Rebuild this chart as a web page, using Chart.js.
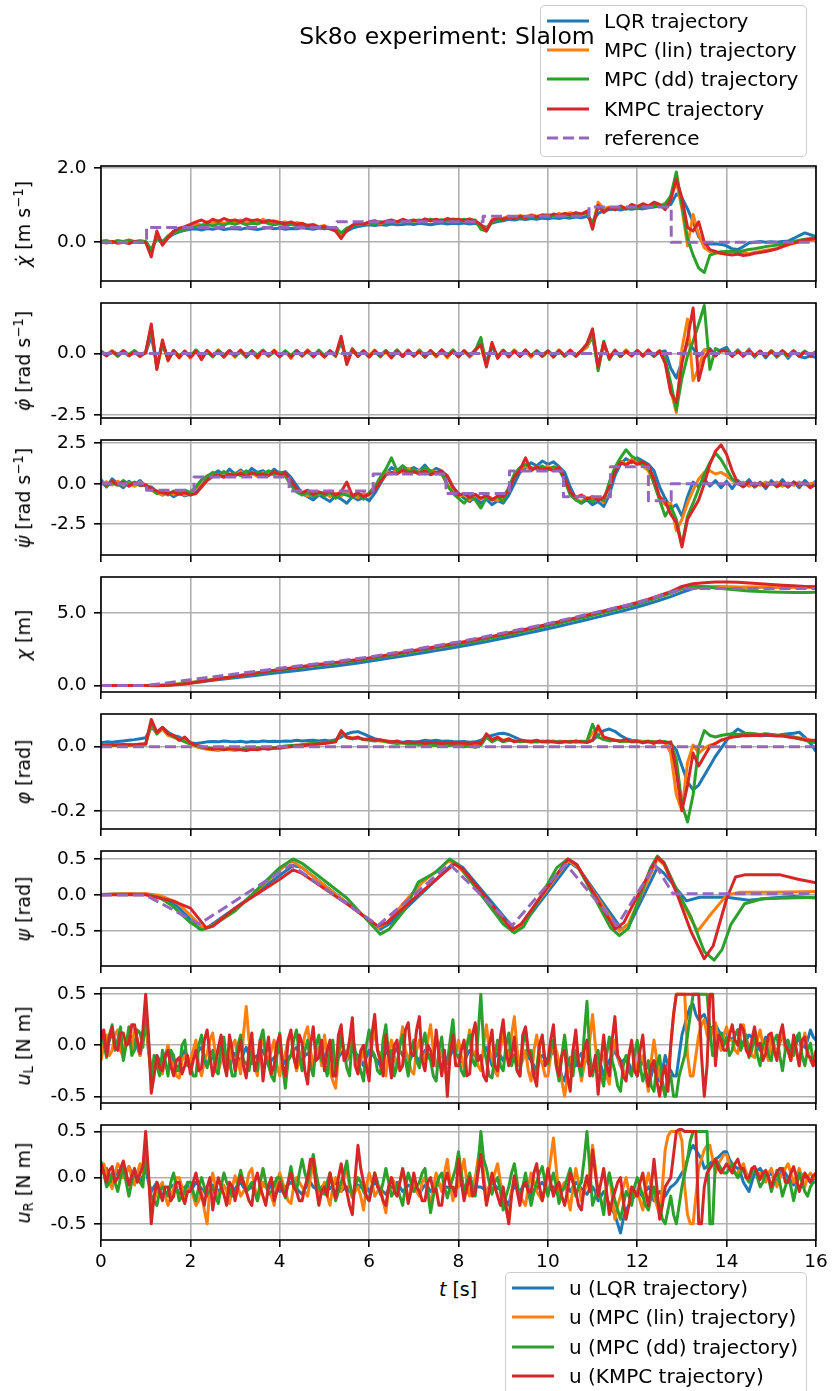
<!DOCTYPE html>
<html>
<head>
<meta charset="utf-8">
<script src="https://cdn.jsdelivr.net/npm/chart.js@4.4.1/dist/chart.umd.min.js"></script>
<style>
  body { margin: 0; width: 832px; height: 1391px; position: relative; overflow: hidden; background: #fff; font-family: "DejaVu Sans", sans-serif; color: #000; }
  canvas { position: absolute; left: 0; }
  .ylab { position: absolute; left: 23px; transform: translate(-50%, -50%) rotate(-90deg); white-space: nowrap; font-size: 19px; }
  .ylab sup { font-size: 70%; vertical-align: 0.55em; line-height: 0; }
  .ylab sub { font-size: 70%; vertical-align: -0.25em; line-height: 0; }
  .legend { position: absolute; border: 1.6px solid #cccccc; border-radius: 5px; background: rgba(255,255,255,0.8); box-sizing: border-box; }
  .row { position: absolute; height: 24px; display: flex; align-items: center; font-size: 20px; white-space: nowrap; }
  .row svg { margin-right: 15px; }
  #title { position: absolute; left: 447px; top: 36px; transform: translate(-50%, -50%); font-size: 23.5px; white-space: nowrap; z-index: 5; }
  #xlab { position: absolute; left: 458px; top: 1289px; transform: translate(-50%, -50%); font-size: 19px; white-space: nowrap; }
</style>
</head>
<body>
<div id="title">Sk8o experiment: Slalom</div>
<div id="xlab"><i>t</i> [s]</div>
<script>
// sample spacing of the logged channels
const DT = 0.125;     // s, state channels
const DT_U = 0.0625;  // s, torque channels
const DT_POS = 0.25;  // s, position channel

// ---- χ̇ forward velocity [m/s] ----
const dxLqr = [
  0.02,-0.01,0.01,0.03,0.00,-0.02,0.01,0.02,
  0.00,-0.22,0.12,-0.05,0.12,0.22,0.28,0.32,
  0.35,0.36,0.33,0.37,0.35,0.38,0.34,0.36,
  0.37,0.35,0.38,0.36,0.34,0.37,0.39,0.36,
  0.38,0.35,0.37,0.36,0.39,0.37,0.35,0.38,
  0.36,0.39,0.34,0.22,0.30,0.38,0.42,0.45,
  0.47,0.45,0.48,0.46,0.49,0.47,0.48,0.50,
  0.48,0.51,0.49,0.47,0.50,0.52,0.49,0.51,
  0.50,0.52,0.49,0.51,0.45,0.40,0.52,0.56,
  0.58,0.62,0.60,0.63,0.61,0.64,0.62,0.65,
  0.63,0.66,0.64,0.67,0.65,0.68,0.66,0.70,
  0.55,0.78,0.85,0.88,0.90,0.87,0.91,0.89,
  0.92,0.90,0.93,0.95,0.98,0.96,1.02,1.30,
  1.20,0.90,0.55,0.15,-0.05,-0.05,-0.04,-0.06,
  -0.10,-0.18,-0.20,-0.12,-0.02,0.00,0.02,0.00,
  0.01,0.00,0.02,0.03,0.10,0.18,0.25,0.20,
  0.15];
const dxLin = [
  0.03,0.05,0.00,0.04,0.02,0.06,0.01,0.03,
  0.01,-0.28,0.20,-0.02,0.18,0.28,0.35,0.40,
  0.44,0.50,0.46,0.55,0.52,0.58,0.50,0.56,
  0.54,0.60,0.52,0.57,0.55,0.62,0.53,0.58,
  0.52,0.55,0.49,0.53,0.50,0.46,0.48,0.42,
  0.45,0.38,0.40,0.20,0.35,0.45,0.50,0.48,
  0.52,0.56,0.50,0.55,0.58,0.53,0.60,0.56,
  0.58,0.55,0.61,0.57,0.60,0.56,0.62,0.58,
  0.60,0.57,0.61,0.58,0.42,0.35,0.58,0.62,
  0.65,0.70,0.66,0.72,0.68,0.74,0.70,0.72,
  0.75,0.70,0.78,0.73,0.80,0.76,0.74,0.82,
  0.45,1.08,0.90,0.95,0.88,0.96,0.92,0.98,
  0.94,1.00,0.96,1.02,0.98,1.05,1.20,1.65,
  0.90,-0.10,0.75,0.20,-0.15,-0.25,-0.28,-0.30,
  -0.32,-0.30,-0.33,-0.29,-0.31,-0.28,-0.25,-0.22,
  -0.20,-0.17,-0.12,-0.08,-0.03,0.00,0.04,0.05,
  0.06];
const dxDd = [
  0.00,0.03,-0.02,0.04,0.01,0.05,0.02,0.04,
  0.02,-0.20,0.10,0.02,0.15,0.25,0.30,0.33,
  0.38,0.42,0.45,0.48,0.44,0.50,0.46,0.52,
  0.48,0.53,0.47,0.51,0.49,0.55,0.50,0.47,
  0.50,0.46,0.48,0.44,0.46,0.42,0.45,0.40,
  0.42,0.36,0.38,0.25,0.38,0.44,0.48,0.50,
  0.53,0.50,0.55,0.52,0.57,0.54,0.58,0.55,
  0.57,0.60,0.56,0.62,0.58,0.61,0.57,0.63,
  0.59,0.62,0.58,0.60,0.35,0.30,0.55,0.60,
  0.62,0.66,0.63,0.68,0.65,0.70,0.67,0.71,
  0.69,0.73,0.70,0.76,0.72,0.78,0.75,0.80,
  0.50,0.95,0.85,0.92,0.88,0.94,0.90,0.96,
  0.93,0.98,0.95,1.00,0.97,1.03,1.25,1.90,
  1.00,0.10,-0.35,-0.70,-0.82,-0.35,-0.30,-0.26,
  -0.25,-0.24,-0.27,-0.23,-0.20,-0.18,-0.15,-0.12,
  -0.10,-0.08,-0.05,-0.02,0.02,0.05,0.08,0.10,
  0.12];
const dxKmpc = [
  0.01,-0.02,0.02,-0.03,0.00,-0.04,0.02,-0.01,
  0.00,-0.40,0.30,-0.08,0.12,0.30,0.38,0.42,
  0.48,0.55,0.60,0.52,0.62,0.56,0.64,0.58,
  0.60,0.55,0.63,0.58,0.61,0.54,0.59,0.56,
  0.53,0.50,0.55,0.48,0.51,0.45,0.47,0.40,
  0.42,0.36,0.30,0.10,0.32,0.46,0.52,0.48,
  0.55,0.58,0.52,0.57,0.60,0.55,0.62,0.57,
  0.60,0.56,0.63,0.58,0.62,0.57,0.64,0.60,
  0.62,0.58,0.63,0.57,0.48,0.30,0.60,0.65,
  0.62,0.68,0.64,0.70,0.66,0.72,0.68,0.74,
  0.70,0.76,0.72,0.78,0.74,0.80,0.76,0.84,
  0.35,1.00,0.80,0.92,0.88,0.98,0.90,1.02,
  0.96,1.04,0.98,1.08,1.02,0.88,1.15,1.70,
  1.20,0.40,0.30,0.55,0.00,-0.20,-0.25,-0.30,
  -0.33,-0.35,-0.32,-0.36,-0.34,-0.30,-0.28,-0.25,
  -0.22,-0.18,-0.12,-0.06,-0.02,0.02,0.06,0.08,
  0.10];
const dxRefT = [0, 1.02, 5.28, 8.55, 10.92, 12.76, 16];
const dxRefV = [0, 0.40, 0.55, 0.70, 0.95, 0, 0];

// ---- φ̇ pitch rate [rad/s] ----
const dphiLqr = [
  0.05,-0.08,0.10,-0.05,0.08,-0.10,0.06,-0.04,
  0.02,0.70,-0.45,0.35,-0.20,0.10,-0.12,0.08,
  -0.15,0.12,-0.10,0.08,-0.12,0.10,-0.08,0.12,
  -0.10,0.08,-0.14,0.10,-0.06,0.12,-0.10,0.06,
  -0.12,0.08,-0.10,0.12,-0.06,0.10,-0.14,0.08,
  -0.10,0.12,-0.08,0.45,-0.30,0.15,-0.10,0.08,
  -0.12,0.10,-0.08,0.12,-0.14,0.06,-0.10,0.12,
  -0.08,0.10,-0.12,0.08,-0.10,0.14,-0.06,0.10,
  -0.12,0.08,-0.10,0.12,0.40,-0.35,0.25,-0.12,
  0.10,-0.08,0.12,-0.10,0.06,-0.12,0.10,-0.08,
  0.12,-0.10,0.08,-0.06,0.10,-0.12,0.08,0.30,
  0.65,-0.50,0.35,-0.15,0.10,-0.12,0.08,-0.10,
  0.12,-0.08,0.10,-0.12,0.06,0.10,-0.60,-1.00,
  -0.30,0.45,0.20,-0.10,0.12,0.20,-0.08,0.15,
  0.25,-0.10,0.15,-0.12,0.18,-0.15,0.10,-0.18,
  0.12,-0.15,0.10,-0.20,0.08,-0.12,-0.18,-0.10,
  -0.15];
const dphiLin = [
  0.08,-0.05,0.12,-0.10,0.06,-0.08,0.10,-0.06,
  0.05,1.00,-0.55,0.45,-0.25,0.08,-0.15,0.10,
  -0.20,0.10,-0.15,0.12,-0.08,0.15,-0.12,0.08,
  -0.15,0.12,-0.08,0.10,-0.18,0.08,-0.12,0.14,
  -0.08,0.12,-0.20,0.10,-0.12,0.15,-0.08,0.10,
  -0.15,0.08,-0.10,0.60,-0.40,0.18,-0.12,0.10,
  -0.08,0.14,-0.12,0.10,-0.15,0.12,-0.10,0.08,
  -0.12,0.15,-0.08,0.12,-0.14,0.10,-0.18,0.12,
  -0.10,0.12,-0.15,0.08,0.45,-0.40,0.30,-0.15,
  0.12,-0.10,0.15,-0.08,0.12,-0.15,0.10,-0.12,
  0.08,-0.12,0.15,-0.10,0.12,-0.08,0.10,0.25,
  0.80,-0.60,0.40,-0.20,0.12,-0.10,0.15,-0.08,
  0.10,-0.12,0.08,-0.10,0.12,-0.30,-1.50,-2.40,
  0.20,1.40,-1.10,-0.60,0.15,0.10,-0.08,0.12,
  0.10,-0.08,0.12,-0.10,0.15,-0.12,0.08,-0.10,
  0.12,-0.08,0.10,-0.12,0.08,-0.10,0.06,-0.08,
  0.05];
const dphiDd = [
  0.10,-0.06,0.08,-0.12,0.10,-0.04,0.12,-0.08,
  0.06,1.05,-0.60,0.40,-0.20,0.12,-0.10,0.08,
  -0.12,0.15,-0.10,0.08,-0.14,0.12,-0.06,0.10,
  -0.12,0.10,-0.15,0.12,-0.08,0.14,-0.10,0.08,
  -0.14,0.10,-0.08,0.12,-0.10,0.08,-0.12,0.14,
  -0.08,0.10,-0.12,0.55,-0.35,0.20,-0.10,0.12,
  -0.10,0.08,-0.14,0.12,-0.10,0.15,-0.12,0.10,
  -0.10,0.12,-0.15,0.10,-0.08,0.12,-0.10,0.15,
  -0.12,0.10,-0.08,0.12,0.65,-0.45,0.30,-0.10,
  0.14,-0.10,0.12,-0.12,0.10,-0.08,0.12,-0.10,
  0.10,-0.08,0.12,-0.12,0.08,-0.10,0.12,0.35,
  0.85,-0.70,0.50,-0.25,0.10,-0.12,0.10,-0.08,
  0.12,-0.10,0.08,-0.12,0.10,-0.20,-1.20,-2.30,
  -1.00,-0.10,0.50,1.20,1.95,-0.65,0.20,0.10,
  0.15,-0.08,0.12,-0.10,0.10,-0.12,0.08,-0.10,
  0.10,-0.12,0.08,-0.10,0.12,-0.08,0.10,-0.06,
  0.08];
const dphiKmpc = [
  0.06,-0.10,0.08,-0.06,0.12,-0.08,0.05,-0.12,
  0.04,1.20,-0.65,0.55,-0.30,0.12,-0.18,0.10,
  -0.15,0.10,-0.25,0.12,-0.10,0.08,-0.15,0.12,
  -0.08,0.14,-0.12,0.08,-0.16,0.10,-0.08,0.12,
  -0.12,0.06,-0.15,0.10,-0.08,0.12,-0.10,0.06,
  -0.14,0.10,-0.08,0.70,-0.45,0.15,-0.12,0.10,
  -0.15,0.12,-0.10,0.08,-0.18,0.10,-0.12,0.14,
  -0.10,0.08,-0.14,0.12,-0.10,0.15,-0.12,0.08,
  -0.14,0.12,-0.10,0.15,0.35,-0.55,0.45,-0.20,
  0.12,-0.14,0.10,-0.12,0.15,-0.10,0.08,-0.12,
  0.10,-0.15,0.12,-0.08,0.14,-0.10,0.12,0.40,
  1.00,-0.55,0.45,-0.20,0.14,-0.12,0.10,-0.10,
  0.12,-0.10,0.15,-0.08,0.10,-0.40,-1.60,-2.00,
  -0.40,0.60,1.85,-1.10,-0.20,0.15,-0.10,0.12,
  0.10,-0.12,0.08,-0.10,0.12,-0.08,0.10,-0.12,
  0.08,-0.10,0.12,-0.08,0.10,-0.12,0.06,-0.10,
  0.05];
const dphiRefT = [0, 16];
const dphiRefV = [0, 0];

// ---- ψ̇ yaw rate [rad/s] ----
const dpsiLqr = [
  0.25,-0.20,0.30,0.00,-0.25,0.15,-0.10,0.20,
  -0.15,-0.20,-0.50,-0.70,-0.55,-0.80,-0.60,-0.75,
  -0.65,-0.55,-0.10,0.30,0.55,0.80,0.50,0.90,
  0.60,0.85,0.55,0.95,0.70,0.80,0.55,0.90,
  0.65,0.75,0.40,-0.10,-0.60,-0.80,-1.00,-0.70,
  -0.90,-1.10,-0.75,-0.95,-1.20,-0.80,-1.00,-0.85,
  -1.05,-0.60,0.00,0.60,1.00,0.75,1.10,0.85,
  1.00,0.80,1.15,0.70,0.95,0.80,0.40,-0.20,
  -0.60,-0.90,-1.10,-0.80,-1.20,-0.95,-1.30,-1.05,
  -1.20,-0.70,0.00,0.70,1.00,1.30,1.10,1.40,
  1.20,1.35,1.05,0.70,-0.20,-0.90,-1.20,-1.00,
  -1.30,-1.10,-1.40,-0.70,0.50,1.20,1.55,1.30,
  1.60,1.40,1.20,0.80,-0.20,-0.90,-1.50,-1.30,
  -2.00,-0.80,0.10,-0.20,0.30,-0.15,0.20,-0.25,
  0.15,-0.30,0.20,-0.10,0.25,-0.20,0.10,-0.30,
  0.20,-0.15,0.25,-0.20,0.10,-0.25,0.20,-0.10,
  0.15];
const dpsiLin = [
  0.00,0.12,-0.08,0.15,-0.10,0.05,-0.15,0.10,
  -0.08,-0.40,-0.55,-0.70,-0.50,-0.65,-0.45,-0.70,
  -0.60,-0.30,0.15,0.50,0.60,0.45,0.70,0.50,
  0.60,0.75,0.50,0.65,0.45,0.70,0.60,0.55,
  0.65,0.45,0.00,-0.45,-0.60,-0.75,-0.50,-0.70,
  -0.55,-0.80,-0.60,-0.75,-0.50,-0.70,-0.85,-0.60,
  -0.70,-0.30,0.30,0.80,0.60,0.90,0.70,0.95,
  0.70,0.85,0.60,0.80,0.70,0.55,0.00,-0.50,
  -0.80,-0.65,-1.00,-0.70,-0.95,-0.75,-0.90,-1.05,
  -0.75,-0.30,0.50,0.90,1.10,0.85,1.05,0.90,
  1.10,0.85,1.00,0.25,-0.60,-0.95,-1.10,-0.85,
  -1.00,-0.90,-1.15,0.00,0.90,1.40,1.20,1.50,
  1.30,1.10,0.80,0.10,-0.90,-1.30,-1.20,-2.90,
  -2.20,-1.20,-0.40,0.30,0.70,0.80,0.60,0.70,
  0.50,0.20,0.00,0.10,-0.15,0.05,-0.10,0.10,
  -0.05,0.10,-0.15,0.05,-0.10,0.10,-0.05,0.00,
  0.05];
const dpsiDd = [
  0.10,-0.15,0.05,-0.10,0.20,-0.05,0.10,-0.12,
  -0.05,-0.35,-0.60,-0.50,-0.70,-0.45,-0.60,-0.40,
  -0.55,-0.20,0.25,0.45,0.70,0.50,0.75,0.55,
  0.65,0.50,0.80,0.60,0.70,0.55,0.80,0.60,
  0.70,0.50,-0.10,-0.50,-0.70,-0.55,-0.80,-0.60,
  -0.75,-0.55,-0.90,-0.60,-0.70,-0.85,-0.60,-0.95,
  -0.55,-0.20,0.40,0.90,1.60,0.80,1.10,0.70,
  0.90,0.65,1.00,0.80,0.60,0.70,-0.10,-0.60,
  -0.90,-1.20,-0.80,-1.00,-1.50,-0.85,-1.00,-0.80,
  -1.10,-0.20,0.60,1.00,1.20,1.00,0.90,1.10,
  0.85,1.05,0.90,0.20,-0.70,-1.00,-1.20,-0.90,
  -1.10,-0.85,-1.05,0.10,1.00,1.60,2.10,1.70,
  1.50,1.20,1.00,0.00,-1.00,-2.00,-1.40,-2.20,
  -3.80,-2.00,-1.20,-0.30,0.60,1.30,1.90,1.50,
  0.90,0.30,0.00,-0.15,0.10,-0.20,0.05,-0.10,
  0.10,-0.20,0.00,-0.15,0.10,-0.10,0.05,-0.20,
  -0.05];
const dpsiKmpc = [
  0.05,-0.10,0.15,-0.05,0.10,-0.15,0.05,-0.08,
  -0.10,-0.30,-0.45,-0.55,-0.60,-0.50,-0.65,-0.55,
  -0.70,-0.60,-0.20,0.20,0.45,0.55,0.40,0.60,
  0.50,0.65,0.45,0.70,0.55,0.60,0.50,0.75,
  0.55,0.65,0.20,-0.30,-0.55,-0.40,-0.65,-0.50,
  -0.60,-0.45,-0.70,-0.50,0.10,-0.75,-0.55,-0.80,
  -0.65,-0.40,0.10,0.55,0.70,0.60,0.85,0.65,
  0.75,0.60,0.80,0.55,0.70,0.75,0.50,-0.20,
  -0.70,-0.60,-0.85,-0.65,-0.90,-0.70,-1.00,-0.75,
  -0.80,-0.40,0.40,0.85,1.60,0.80,1.05,0.85,
  0.95,0.80,1.00,0.35,-0.50,-0.85,-0.70,-0.95,
  -0.80,-1.00,-0.85,-0.20,0.70,1.30,1.15,1.40,
  1.20,1.35,1.10,0.30,-0.80,-1.10,-1.90,-2.40,
  -3.90,-2.20,-1.60,-1.00,0.00,1.20,2.00,2.40,
  1.80,0.80,0.05,-0.20,0.10,-0.15,0.05,-0.20,
  0.10,-0.15,0.05,-0.20,0.10,-0.10,0.05,-0.25,
  0.00];
const dpsiRefT = [0, 1.02, 2.08, 4.21, 6.09, 7.72, 9.14, 10.35, 11.4, 12.25, 12.76, 16];
const dpsiRefV = [0, -0.40, 0.42, -0.45, 0.60, -0.60, 0.78, -0.80, 1.05, -1.05, 0, 0];

// ---- χ position [m], every 0.25 s ----
const chiLqr = [
  0,0,0,0, 0,0.00,0.03,0.09, 0.17,0.26,0.35,0.44, 0.53,0.62,0.71,0.80,
  0.89,0.98,1.07,1.16, 1.25,1.34,1.44,1.55, 1.66,1.78,1.90,2.02, 2.14,2.27,2.40,2.53,
  2.66,2.80,2.94,3.09, 3.25,3.41,3.57,3.74, 3.91,4.08,4.26,4.44, 4.62,4.81,5.00,5.20,
  5.40,5.63,5.87,6.12, 6.42,6.68,6.78,6.79, 6.78,6.77,6.77,6.77, 6.78,6.78,6.79,6.80,
  6.80];
const chiLin = [
  0,0,0,0, 0,0.00,0.04,0.11, 0.20,0.30,0.41,0.52, 0.63,0.75,0.86,0.97,
  1.08,1.18,1.28,1.37, 1.46,1.55,1.65,1.75, 1.86,1.98,2.10,2.22, 2.35,2.48,2.61,2.74,
  2.87,3.01,3.16,3.31, 3.47,3.63,3.80,3.97, 4.14,4.32,4.50,4.68, 4.87,5.06,5.25,5.44,
  5.64,5.87,6.11,6.37, 6.66,6.78,6.80,6.79, 6.78,6.77,6.76,6.76, 6.75,6.75,6.75,6.76,
  6.76];
const chiDd = [
  0,0,0,0, 0,0.00,0.03,0.10, 0.19,0.29,0.40,0.51, 0.62,0.73,0.84,0.95,
  1.06,1.16,1.26,1.35, 1.44,1.53,1.63,1.73, 1.84,1.96,2.08,2.20, 2.33,2.46,2.59,2.72,
  2.85,2.99,3.13,3.28, 3.44,3.60,3.77,3.94, 4.11,4.29,4.47,4.65, 4.84,5.03,5.22,5.41,
  5.61,5.85,6.10,6.36, 6.68,6.84,6.80,6.72, 6.64,6.57,6.51,6.47, 6.44,6.42,6.41,6.41,
  6.42];
const chiKmpc = [
  0,0,0,0, 0,-0.02,0.01,0.07, 0.16,0.27,0.39,0.51, 0.63,0.75,0.87,0.99,
  1.10,1.21,1.31,1.41, 1.50,1.59,1.68,1.79, 1.90,2.02,2.15,2.28, 2.41,2.54,2.67,2.80,
  2.94,3.08,3.23,3.38, 3.54,3.70,3.87,4.04, 4.21,4.39,4.57,4.76, 4.94,5.13,5.32,5.51,
  5.71,5.95,6.20,6.46, 6.82,7.00,7.08,7.12, 7.12,7.10,7.06,7.01, 6.96,6.91,6.86,6.81,
  6.78];
const chiRef = [
  0,0,0,0, 0,0.09,0.19,0.29, 0.39,0.49,0.59,0.69, 0.79,0.89,0.99,1.09,
  1.19,1.29,1.38,1.47, 1.56,1.65,1.76,1.86, 1.96,2.09,2.22,2.35, 2.48,2.61,2.74,2.87,
  3.00,3.15,3.30,3.46, 3.62,3.78,3.94,4.10, 4.26,4.44,4.62,4.80, 4.98,5.16,5.33,5.51,
  5.69,5.93,6.17,6.41, 6.66,6.68,6.68,6.68, 6.68,6.68,6.68,6.68, 6.68,6.68,6.68,6.68,
  6.68];

// ---- φ pitch [rad] ----
const phiLqr = [
  0.012,0.015,0.014,0.016,0.018,0.020,0.022,0.025,
  0.028,0.060,0.045,0.060,0.045,0.035,0.030,0.020,
  0.012,0.010,0.012,0.015,0.016,0.015,0.018,0.016,
  0.015,0.017,0.014,0.016,0.015,0.018,0.016,0.017,
  0.016,0.018,0.017,0.020,0.018,0.019,0.020,0.018,
  0.020,0.018,0.022,0.030,0.040,0.045,0.047,0.040,
  0.032,0.025,0.020,0.018,0.016,0.015,0.014,0.016,
  0.015,0.016,0.020,0.018,0.020,0.017,0.018,0.016,
  0.015,0.016,0.014,0.015,0.020,0.030,0.035,0.040,
  0.042,0.038,0.030,0.022,0.018,0.016,0.015,0.017,
  0.016,0.015,0.017,0.016,0.015,0.016,0.017,0.015,
  0.020,0.035,0.050,0.055,0.048,0.035,0.025,0.020,
  0.018,0.016,0.017,0.015,0.016,0.014,0.010,-0.010,
  -0.060,-0.110,-0.135,-0.120,-0.090,-0.060,-0.030,-0.005,
  0.020,0.040,0.055,0.045,0.035,0.036,0.034,0.035,
  0.036,0.035,0.038,0.040,0.042,0.045,0.030,0.010,
  -0.015];
const phiLin = [
  0.005,0.006,0.004,0.007,0.005,0.006,0.005,0.007,
  0.008,0.070,0.040,0.055,0.035,0.030,0.020,0.018,
  0.010,0.000,-0.005,-0.008,-0.010,-0.012,-0.008,-0.010,
  -0.012,-0.008,-0.010,-0.006,-0.008,-0.005,-0.006,-0.003,
  -0.002,0.000,0.003,0.005,0.006,0.008,0.010,0.012,
  0.012,0.014,0.016,0.045,0.030,0.028,0.026,0.024,
  0.022,0.020,0.018,0.016,0.014,0.013,0.012,0.010,
  0.012,0.010,0.008,0.010,0.009,0.007,0.008,0.006,
  0.008,0.006,0.007,0.005,0.010,0.035,0.020,0.028,
  0.020,0.022,0.018,0.020,0.016,0.018,0.015,0.017,
  0.016,0.018,0.014,0.016,0.015,0.017,0.014,0.016,
  0.045,0.055,0.028,0.022,0.020,0.018,0.016,0.018,
  0.015,0.017,0.014,0.016,0.013,0.012,-0.020,-0.150,
  -0.200,-0.050,0.005,-0.020,-0.005,0.005,0.010,0.020,
  0.025,0.030,0.033,0.035,0.036,0.038,0.037,0.039,
  0.038,0.036,0.035,0.032,0.030,0.028,0.024,0.020,
  0.016];
const phiDd = [
  0.004,0.006,0.005,0.004,0.006,0.007,0.005,0.006,
  0.008,0.075,0.040,0.060,0.042,0.030,0.025,0.015,
  0.008,0.004,-0.002,-0.004,-0.006,-0.004,-0.008,-0.005,
  -0.006,-0.008,-0.004,-0.006,-0.003,-0.005,-0.002,-0.004,
  0.000,0.002,0.004,0.003,0.006,0.008,0.010,0.012,
  0.012,0.015,0.018,0.045,0.028,0.025,0.028,0.022,
  0.020,0.018,0.020,0.015,0.012,0.010,0.012,0.008,
  0.010,0.006,0.008,0.005,0.004,0.006,0.003,0.005,
  0.003,0.000,0.002,-0.002,0.005,0.030,0.015,0.025,
  0.015,0.020,0.018,0.015,0.017,0.014,0.016,0.015,
  0.014,0.016,0.013,0.015,0.017,0.014,0.016,0.018,
  0.070,0.030,0.022,0.018,0.020,0.016,0.018,0.015,
  0.016,0.014,0.017,0.015,0.012,0.016,0.010,-0.040,
  -0.180,-0.235,-0.150,0.000,0.050,0.035,0.030,0.035,
  0.038,0.040,0.038,0.040,0.042,0.040,0.038,0.040,
  0.038,0.036,0.034,0.032,0.030,0.025,0.020,0.015,
  0.012];
const phiKmpc = [
  0.005,0.004,0.006,0.005,0.007,0.005,0.006,0.008,
  0.008,0.085,0.045,0.060,0.040,0.035,0.020,0.030,
  0.012,0.005,0.000,-0.005,-0.008,-0.005,-0.010,-0.006,
  -0.008,-0.010,-0.012,-0.008,-0.010,-0.006,-0.008,-0.004,
  -0.005,-0.002,0.000,0.003,0.002,0.005,0.006,0.008,
  0.010,0.012,0.015,0.050,0.030,0.025,0.030,0.022,
  0.025,0.020,0.022,0.018,0.015,0.018,0.012,0.015,
  0.012,0.015,0.010,0.014,0.012,0.010,0.013,0.010,
  0.012,0.010,0.008,0.012,0.010,0.040,0.022,0.030,
  0.018,0.025,0.015,0.020,0.018,0.016,0.020,0.015,
  0.018,0.015,0.012,0.016,0.014,0.018,0.015,0.013,
  0.020,0.065,0.030,0.025,0.020,0.018,0.022,0.015,
  0.018,0.012,0.016,0.010,0.018,0.012,0.015,-0.080,
  -0.200,-0.120,-0.020,-0.060,-0.030,0.000,0.010,0.020,
  0.025,0.030,0.032,0.035,0.034,0.036,0.035,0.037,
  0.035,0.033,0.034,0.030,0.028,0.025,0.022,0.020,
  0.020];
const phiRefT = [0, 16];
const phiRefV = [0, 0];

// ---- ψ yaw [rad], breakpoints (t, value) ----
const psiLqrT = [0,0.5,1.0,1.3,1.7,2.0,2.2,2.4,3.0,4.3,4.5,6.25,6.45,7.9,8.1,9.25,9.45,10.5,10.7,11.65,11.85,12.45,12.6,13.1,13.4,14.0,14.5,15.0,15.5,16];
const psiLqrV = [0.01,0.02,0.015,-0.02,-0.15,-0.33,-0.47,-0.44,-0.18,0.41,0.38,-0.47,-0.40,0.45,0.38,-0.47,-0.40,0.45,0.36,-0.47,-0.38,0.38,0.30,-0.08,-0.03,-0.03,-0.07,-0.04,-0.02,-0.04];
const psiLinT = [0,0.5,1.0,1.3,1.7,2.0,2.3,2.5,3.0,4.25,4.45,6.2,6.4,6.9,7.2,7.8,8.0,9.2,9.4,10.45,10.65,11.6,11.8,12.45,12.6,13.0,13.35,13.6,14.0,14.3,15.0,16];
const psiLinV = [0.01,0.02,0.02,0.0,-0.10,-0.28,-0.47,-0.42,-0.20,0.48,0.40,-0.45,-0.38,-0.02,0.18,0.48,0.40,-0.50,-0.42,0.48,0.40,-0.50,-0.40,0.50,0.42,-0.10,-0.50,-0.30,0.00,0.04,0.04,0.05];
const psiDdT = [0,1.0,1.3,1.6,2.0,2.25,2.45,3.0,4.0,4.3,4.5,5.5,6.25,6.45,6.8,7.1,7.5,7.8,8.0,9.0,9.25,9.45,10.2,10.45,10.65,11.4,11.6,11.8,12.3,12.45,12.6,12.9,13.2,13.5,13.72,13.9,14.1,14.4,14.8,16];
const psiDdV = [0.01,0.01,-0.03,-0.15,-0.38,-0.48,-0.44,-0.22,0.38,0.50,0.44,-0.04,-0.54,-0.47,-0.20,0.18,0.32,0.50,0.42,-0.40,-0.52,-0.44,0.38,0.50,0.42,-0.45,-0.56,-0.46,0.38,0.54,0.45,0.05,-0.30,-0.78,-0.90,-0.75,-0.40,-0.12,-0.05,-0.03];
const psiKmpcT = [0,0.5,1.0,1.3,1.6,2.0,2.35,2.5,3.0,3.5,4.0,4.3,4.5,5.5,6.2,6.4,7.0,7.9,8.1,9.2,9.4,10.45,10.65,11.5,11.7,12.45,12.6,12.9,13.2,13.5,13.7,14.0,14.2,14.4,15.2,15.6,16];
const psiKmpcV = [0.0,0.01,0.005,-0.04,-0.08,-0.18,-0.45,-0.43,-0.18,0.02,0.22,0.35,0.30,-0.12,-0.43,-0.38,-0.05,0.43,0.36,-0.48,-0.40,0.50,0.42,-0.47,-0.38,0.52,0.44,0.00,-0.50,-0.88,-0.70,-0.05,0.25,0.28,0.28,0.22,0.17];
const psiRefT = [0,1.0,2.2,4.25,6.2,7.8,9.2,10.4,11.55,12.4,12.8,16];
const psiRefV = [0,0,-0.40,0.42,-0.42,0.43,-0.42,0.43,-0.42,0.42,0.02,0.02];

// ---- u_L left wheel torque [N m], every 0.0625 s ----
const uLLqr = [
  0.10,0.02,-0.05,0.05,0.12,0.05,0.00,-0.05,-0.08,0.02,0.10,0.08,0.05,-0.02,-0.10,0.05,
  0.20,-0.05,-0.25,-0.15,-0.10,-0.15,-0.20,-0.12,-0.08,-0.10,-0.15,-0.20,-0.22,-0.12,-0.05,-0.12,
  -0.18,-0.12,-0.10,-0.05,-0.02,-0.12,-0.20,-0.15,-0.12,-0.08,-0.05,-0.10,-0.15,-0.18,-0.22,-0.12,
  -0.08,-0.12,-0.15,-0.08,-0.02,-0.10,-0.18,-0.12,-0.10,-0.08,-0.05,-0.12,-0.20,-0.15,-0.12,-0.08,
  -0.05,-0.12,-0.18,-0.12,-0.10,-0.05,-0.02,-0.08,-0.15,-0.10,-0.08,-0.12,-0.20,-0.10,-0.05,-0.08,
  -0.12,-0.05,-0.02,-0.10,-0.18,-0.12,-0.08,-0.05,-0.15,-0.10,-0.05,-0.08,-0.10,-0.15,-0.20,-0.12,
  -0.05,-0.08,-0.12,-0.15,-0.20,-0.12,-0.08,-0.05,-0.15,-0.08,-0.02,-0.05,-0.10,-0.15,-0.18,-0.12,
  -0.08,-0.12,-0.15,-0.10,-0.05,-0.08,-0.12,-0.15,-0.20,-0.12,-0.08,-0.10,-0.15,-0.10,-0.05,-0.08,
  -0.12,-0.15,-0.18,-0.10,-0.05,-0.08,-0.10,-0.12,-0.15,-0.08,-0.02,-0.10,-0.20,-0.12,-0.08,-0.10,
  -0.15,-0.10,-0.05,-0.08,-0.12,-0.18,-0.20,-0.12,-0.08,-0.12,-0.15,-0.20,-0.25,-0.15,-0.10,-0.12,
  -0.18,-0.10,-0.05,-0.12,-0.20,-0.30,-0.35,-0.20,-0.12,-0.15,-0.20,-0.12,-0.08,-0.12,-0.15,-0.20,
  -0.25,-0.15,-0.10,-0.20,-0.30,-0.20,-0.15,-0.10,-0.05,-0.12,-0.20,-0.15,-0.12,-0.18,-0.25,-0.20,
  -0.30,-0.20,-0.15,-0.25,-0.40,-0.30,-0.20,-0.15,-0.35,-0.25,-0.10,-0.20,-0.25,-0.30,-0.30,-0.10,
  0.10,0.20,0.30,0.38,0.40,0.30,0.25,0.28,0.30,0.22,0.15,0.18,0.20,0.15,0.10,0.12,
  0.12,0.08,0.05,0.10,0.15,0.05,0.00,0.05,0.10,0.08,0.05,0.00,-0.05,0.02,0.08,0.05,
  0.05,-0.02,-0.08,0.02,0.10,0.05,0.00,-0.05,-0.05,0.02,0.08,0.00,-0.02,0.05,0.15,0.08,
  0.05];
const uLLin = [
  -0.15,0.00,0.10,-0.10,-0.05,0.10,0.15,-0.05,-0.12,0.05,0.08,-0.05,0.18,0.05,-0.10,0.10,
  0.30,-0.05,-0.30,-0.20,-0.15,-0.25,-0.28,-0.10,0.00,-0.15,-0.20,-0.30,-0.32,-0.15,-0.10,-0.20,
  -0.15,-0.05,0.05,-0.20,-0.30,-0.15,-0.08,0.05,0.12,-0.10,-0.25,-0.15,-0.05,-0.25,-0.20,0.00,
  0.05,-0.15,-0.28,0.10,0.38,0.05,-0.10,-0.20,-0.30,-0.05,0.10,-0.10,-0.15,-0.05,0.05,-0.20,
  -0.30,-0.15,-0.08,0.05,0.12,-0.10,-0.25,-0.15,-0.05,0.10,0.18,-0.05,-0.20,-0.10,-0.02,-0.20,
  0.10,-0.10,-0.25,-0.35,-0.42,-0.10,0.05,-0.05,-0.15,0.00,0.12,-0.10,-0.28,-0.15,-0.05,-0.20,
  -0.20,0.00,0.15,-0.05,-0.08,-0.25,-0.30,-0.05,0.05,-0.10,-0.22,0.00,0.18,-0.05,-0.12,-0.25,
  -0.28,-0.05,0.05,-0.10,-0.15,0.05,0.20,-0.05,-0.20,-0.15,-0.05,-0.25,-0.30,-0.05,0.10,-0.10,
  0.05,-0.10,-0.22,0.00,0.15,-0.05,-0.08,-0.20,-0.25,0.00,0.20,-0.05,-0.12,-0.25,-0.30,-0.05,
  0.12,-0.05,-0.15,0.10,0.28,-0.05,-0.20,-0.15,-0.05,-0.25,-0.35,-0.05,0.10,-0.10,-0.18,-0.30,
  -0.30,-0.10,0.05,-0.05,-0.15,-0.35,-0.50,-0.30,-0.20,-0.05,0.10,-0.15,-0.35,-0.20,-0.08,0.05,
  0.30,0.00,-0.25,-0.15,-0.10,-0.30,-0.38,-0.10,0.05,-0.10,-0.20,-0.25,-0.30,-0.10,0.00,-0.15,
  -0.25,-0.15,-0.10,-0.30,-0.45,-0.15,0.05,-0.15,-0.30,-0.40,-0.50,-0.30,0.00,0.30,0.50,0.50,
  0.50,0.50,-0.10,-0.30,-0.30,-0.10,0.10,0.20,0.25,0.10,0.05,0.15,0.22,0.05,-0.05,0.10,
  0.18,0.05,0.05,-0.05,-0.08,0.10,0.20,0.05,0.00,-0.10,-0.12,0.05,0.15,0.00,-0.05,-0.15,
  0.10,0.00,-0.10,0.05,0.15,-0.05,-0.05,-0.15,0.08,-0.05,-0.20,0.00,0.12,-0.05,-0.15,-0.20,
  -0.10];
const uLDd = [
  0.15,0.02,-0.12,0.10,0.20,-0.05,0.05,0.18,-0.15,0.00,0.18,-0.10,-0.05,0.15,0.12,-0.02,
  0.40,0.05,-0.35,-0.10,-0.20,-0.30,-0.05,-0.15,-0.30,-0.05,-0.10,-0.25,-0.25,0.00,0.05,-0.20,
  -0.20,-0.30,-0.30,0.00,0.10,-0.15,-0.22,-0.10,-0.05,-0.25,-0.28,0.05,0.08,-0.20,-0.15,-0.30,
  -0.30,0.00,0.10,-0.15,-0.18,-0.25,-0.05,-0.20,-0.25,0.05,0.15,-0.10,-0.20,-0.30,-0.35,-0.10,
  0.12,-0.20,-0.42,-0.15,-0.10,0.05,0.15,-0.10,-0.25,-0.05,0.05,-0.20,-0.30,0.00,0.10,-0.15,
  -0.18,-0.30,-0.05,0.05,-0.30,-0.10,0.12,-0.05,-0.22,-0.30,0.08,-0.05,-0.15,-0.25,-0.35,0.00,
  0.15,-0.05,-0.10,-0.25,-0.28,0.05,0.20,-0.10,-0.05,-0.30,-0.20,0.00,0.10,-0.15,-0.30,-0.05,
  0.05,-0.15,-0.22,0.00,0.12,-0.10,-0.15,-0.30,-0.35,-0.05,0.08,-0.20,-0.18,0.05,0.25,-0.10,
  -0.10,-0.25,-0.30,0.00,0.10,-0.15,-0.20,0.10,0.50,0.00,-0.15,-0.30,-0.32,-0.10,0.05,-0.20,
  -0.25,0.00,0.12,-0.20,-0.10,-0.25,-0.30,0.00,0.15,-0.10,-0.05,-0.30,-0.22,0.00,0.08,-0.15,
  -0.18,-0.05,0.05,-0.20,-0.35,-0.10,0.10,-0.15,-0.20,-0.30,-0.05,-0.20,-0.30,0.10,0.43,-0.10,
  -0.30,-0.15,-0.05,-0.30,-0.40,-0.10,0.08,-0.15,-0.25,-0.40,-0.45,-0.20,-0.10,-0.25,-0.30,-0.10,
  0.05,-0.20,-0.35,-0.25,-0.15,-0.40,-0.45,-0.20,-0.10,-0.35,-0.50,-0.30,-0.30,-0.50,-0.50,-0.30,
  -0.20,-0.10,0.10,0.30,0.50,0.50,0.50,0.50,0.50,0.50,0.15,-0.10,-0.10,0.05,0.12,0.00,
  0.08,-0.10,-0.05,0.10,0.15,-0.05,0.02,0.10,-0.12,-0.05,0.10,-0.10,-0.20,0.00,0.05,-0.10,
  -0.15,0.05,0.10,-0.10,-0.25,-0.05,0.05,-0.05,-0.10,0.08,0.12,-0.10,-0.20,-0.05,0.02,-0.15,
  -0.10];
const uLKmpc = [
  0.05,0.15,-0.10,0.08,0.18,-0.02,-0.05,0.12,0.12,0.00,0.02,0.20,0.20,0.05,-0.08,0.15,
  0.50,0.10,-0.47,-0.30,-0.10,-0.22,-0.25,-0.10,-0.05,-0.20,-0.30,-0.15,-0.12,-0.28,-0.20,-0.10,
  -0.28,-0.15,-0.05,-0.25,-0.22,0.05,0.15,-0.10,-0.30,-0.18,-0.02,0.10,-0.18,-0.30,0.10,-0.05,
  -0.25,-0.10,0.05,-0.20,-0.32,-0.05,0.12,-0.25,-0.15,0.05,-0.35,-0.10,0.08,-0.28,-0.20,0.02,
  0.10,-0.20,-0.30,0.05,0.15,-0.12,-0.22,0.10,0.02,-0.25,-0.38,0.00,0.18,-0.15,-0.12,0.05,
  -0.25,-0.05,0.05,-0.30,-0.30,0.10,0.20,-0.15,-0.10,0.05,0.27,-0.20,-0.28,-0.05,0.00,-0.20,
  -0.35,0.10,0.30,-0.05,-0.15,-0.30,0.10,-0.10,-0.32,0.00,0.05,-0.25,-0.20,0.15,0.22,-0.08,
  -0.10,0.15,0.28,-0.15,-0.25,0.00,-0.05,-0.20,0.15,-0.10,-0.30,-0.05,-0.50,-0.10,0.10,-0.20,
  -0.20,-0.05,0.05,-0.30,-0.28,0.10,0.22,-0.15,-0.10,-0.30,-0.35,0.00,0.15,-0.20,-0.25,0.08,
  0.25,-0.05,-0.20,-0.10,0.08,-0.25,-0.30,0.10,0.18,-0.05,-0.12,-0.30,-0.40,0.00,0.10,-0.20,
  -0.15,0.05,0.20,-0.20,-0.30,-0.10,-0.05,-0.30,-0.45,-0.05,0.15,-0.20,-0.20,-0.05,0.05,-0.30,
  -0.25,-0.10,-0.48,-0.15,0.10,-0.20,-0.30,0.05,0.28,-0.10,-0.15,-0.30,-0.35,-0.10,0.05,-0.25,
  -0.30,-0.05,0.10,-0.25,-0.40,-0.20,-0.15,-0.35,-0.50,-0.30,-0.20,-0.45,0.00,0.30,0.50,0.50,
  0.50,0.50,0.50,0.50,0.50,0.50,0.50,-0.10,-0.50,-0.20,0.50,0.50,-0.20,0.10,0.05,-0.05,
  -0.05,0.10,0.20,0.05,0.00,0.20,0.15,-0.05,-0.10,0.05,0.18,0.00,0.02,-0.15,-0.08,0.10,
  0.12,-0.05,-0.15,0.10,0.20,0.00,-0.05,-0.15,0.10,-0.05,-0.20,0.05,0.08,-0.10,-0.12,-0.20,
  -0.05];

// ---- u_R right wheel torque [N m], every 0.0625 s ----
const uRLqr = [
  0.05,0.08,0.10,0.02,-0.05,0.02,0.08,0.05,0.00,0.05,0.12,0.05,0.02,-0.02,-0.05,0.02,
  0.10,-0.05,-0.15,-0.10,-0.05,-0.12,-0.20,-0.18,-0.15,-0.10,-0.08,-0.12,-0.18,-0.15,-0.10,-0.08,
  -0.15,-0.10,-0.05,-0.08,-0.12,-0.15,-0.20,-0.12,-0.08,-0.10,-0.15,-0.12,-0.10,-0.12,-0.18,-0.15,
  -0.12,-0.08,-0.05,-0.10,-0.15,-0.12,-0.10,-0.15,-0.20,-0.12,-0.08,-0.10,-0.12,-0.08,-0.05,-0.08,
  -0.15,-0.12,-0.10,-0.08,-0.05,-0.08,-0.12,-0.15,-0.18,-0.12,-0.08,-0.05,-0.10,-0.12,-0.15,-0.10,
  -0.08,-0.10,-0.12,-0.08,-0.05,-0.10,-0.15,-0.12,-0.10,-0.15,-0.18,-0.12,-0.08,-0.10,-0.12,-0.10,
  -0.15,-0.10,-0.05,-0.08,-0.12,-0.15,-0.18,-0.12,-0.10,-0.08,-0.05,-0.10,-0.15,-0.12,-0.08,-0.10,
  -0.12,-0.15,-0.18,-0.12,-0.08,-0.10,-0.15,-0.12,-0.05,-0.08,-0.12,-0.10,-0.10,-0.12,-0.15,-0.12,
  -0.05,-0.08,-0.12,-0.15,-0.18,-0.12,-0.08,-0.10,-0.10,-0.12,-0.15,-0.10,-0.05,-0.08,-0.12,-0.10,
  -0.18,-0.25,-0.30,-0.15,-0.10,-0.12,-0.15,-0.10,-0.08,-0.12,-0.20,-0.15,-0.12,-0.08,-0.05,-0.10,
  -0.15,-0.12,-0.10,-0.15,-0.20,-0.12,-0.08,-0.10,-0.15,-0.10,-0.05,-0.08,-0.12,-0.15,-0.18,-0.12,
  -0.10,-0.15,-0.25,-0.20,-0.15,-0.20,-0.30,-0.35,-0.40,-0.50,-0.60,-0.45,-0.35,-0.30,-0.25,-0.20,
  -0.15,-0.18,-0.20,-0.15,-0.10,-0.15,-0.25,-0.20,-0.15,-0.18,-0.20,-0.15,-0.10,-0.08,-0.05,0.00,
  0.05,0.10,0.20,0.30,0.35,0.30,0.25,0.20,0.10,0.12,0.15,0.18,0.20,0.22,0.25,0.28,
  0.28,0.20,0.15,0.12,0.10,0.05,-0.05,-0.10,-0.15,-0.05,0.05,0.08,0.10,0.05,0.00,0.02,
  0.05,0.00,-0.05,0.02,0.10,0.05,0.00,-0.02,-0.08,-0.02,0.05,0.03,0.02,-0.02,-0.05,-0.02,
  0.00];
const uRLin = [
  0.10,0.15,0.05,-0.05,-0.12,0.05,0.15,0.10,0.00,0.05,0.12,0.00,-0.08,0.05,0.15,0.05,
  0.35,0.00,-0.30,-0.25,-0.15,-0.10,-0.05,-0.20,-0.30,-0.20,-0.12,0.00,0.00,-0.10,-0.22,-0.15,
  -0.10,-0.20,-0.30,-0.25,-0.15,-0.35,-0.50,-0.10,0.05,-0.10,-0.20,-0.15,-0.08,-0.15,-0.28,-0.10,
  0.02,-0.10,-0.20,-0.15,-0.10,0.05,0.10,-0.10,-0.25,-0.15,-0.05,-0.10,-0.15,-0.20,-0.30,-0.05,
  0.05,-0.05,-0.15,-0.25,-0.28,-0.10,0.00,-0.05,-0.10,-0.15,-0.20,0.00,0.15,-0.05,-0.25,-0.15,
  -0.05,-0.20,-0.30,-0.10,0.00,-0.05,-0.15,0.00,0.10,-0.10,-0.22,-0.15,-0.10,-0.20,-0.35,-0.10,
  0.05,-0.05,-0.20,-0.15,-0.10,-0.25,-0.38,-0.10,0.00,-0.05,-0.15,-0.05,0.08,-0.10,-0.25,-0.10,
  -0.05,-0.15,-0.20,-0.05,0.00,-0.15,-0.30,-0.10,0.05,-0.05,-0.15,0.05,0.20,-0.05,-0.25,-0.10,
  -0.10,0.05,0.20,-0.05,-0.20,-0.10,0.00,0.20,0.40,0.05,-0.25,-0.10,-0.05,0.05,0.15,-0.05,
  -0.20,-0.35,-0.45,-0.15,0.00,-0.10,-0.20,-0.25,-0.30,-0.10,0.05,-0.05,-0.15,-0.20,-0.25,-0.10,
  0.00,0.20,0.43,0.10,-0.20,-0.10,-0.05,-0.20,-0.35,-0.10,0.10,-0.05,-0.25,-0.15,-0.05,0.05,
  0.35,0.10,-0.15,-0.25,-0.30,-0.10,0.05,-0.20,-0.45,-0.30,-0.20,-0.10,0.00,-0.15,-0.28,-0.15,
  -0.15,-0.25,-0.35,-0.10,0.05,-0.10,-0.20,-0.30,-0.40,-0.10,0.30,0.45,0.50,0.50,0.50,0.50,
  0.40,-0.10,-0.40,-0.50,-0.50,-0.20,0.10,0.20,0.30,0.35,0.35,0.20,0.05,0.15,0.20,0.25,
  0.25,0.15,0.10,0.05,0.05,0.10,0.15,0.05,0.00,0.05,0.10,0.05,0.05,0.00,-0.05,0.05,
  0.10,0.00,-0.10,0.00,0.05,0.10,0.15,0.05,-0.05,0.02,0.10,0.00,-0.10,0.00,0.05,0.00,
  0.00];
const uRDd = [
  0.18,0.05,-0.10,-0.05,0.05,-0.05,-0.15,0.00,0.12,-0.05,-0.20,-0.05,0.08,0.00,-0.05,-0.10,
  0.30,0.00,-0.20,-0.25,-0.30,-0.15,-0.10,-0.15,-0.20,-0.05,0.05,-0.10,-0.25,-0.20,-0.15,-0.05,
  -0.05,-0.15,-0.25,-0.10,0.00,-0.10,-0.18,-0.15,-0.10,-0.20,-0.28,-0.10,0.05,-0.05,-0.12,-0.20,
  -0.20,-0.05,0.08,-0.05,-0.15,-0.10,-0.05,-0.15,-0.25,-0.05,0.10,-0.05,-0.18,-0.15,-0.08,0.00,
  0.00,-0.10,-0.22,-0.05,0.12,-0.05,-0.15,0.05,0.20,0.05,-0.05,0.10,0.25,0.05,-0.10,-0.15,
  -0.18,-0.05,0.05,-0.10,-0.25,-0.15,-0.05,0.05,0.18,-0.05,-0.20,-0.10,0.00,-0.05,-0.15,-0.20,
  -0.25,-0.10,0.05,-0.05,-0.18,-0.05,0.10,-0.05,-0.20,-0.15,-0.08,-0.20,-0.30,-0.10,0.05,-0.05,
  -0.15,-0.10,-0.05,0.05,0.10,-0.15,-0.38,-0.20,-0.10,0.00,0.05,-0.10,-0.22,-0.10,0.00,0.10,
  0.28,0.05,-0.15,-0.05,0.05,-0.10,-0.20,0.10,0.50,0.20,0.10,-0.05,-0.18,-0.05,0.00,-0.15,
  -0.35,-0.20,-0.10,0.05,0.15,-0.05,-0.25,-0.10,0.05,-0.15,-0.30,-0.15,-0.05,0.05,0.12,-0.05,
  -0.20,-0.05,0.05,-0.10,-0.28,-0.15,-0.10,0.00,0.10,-0.05,-0.20,-0.10,-0.05,0.20,0.50,0.10,
  -0.30,-0.20,-0.10,-0.25,-0.40,-0.10,0.05,-0.10,-0.25,-0.35,-0.45,-0.30,-0.15,-0.20,-0.30,-0.10,
  0.00,-0.10,-0.20,-0.30,-0.35,-0.20,-0.10,-0.25,-0.30,-0.45,-0.50,-0.35,-0.20,-0.40,-0.50,-0.30,
  -0.10,0.05,0.20,0.40,0.50,0.50,0.50,0.50,0.50,0.50,-0.50,-0.50,0.20,0.15,0.10,0.05,
  0.05,0.10,0.15,0.05,0.00,0.05,0.10,0.00,-0.05,0.05,0.12,0.00,-0.10,-0.05,0.05,0.00,
  -0.15,-0.05,0.08,-0.05,-0.20,-0.10,0.00,-0.10,-0.25,-0.10,0.05,-0.05,-0.15,-0.20,-0.10,-0.05,
  -0.05];
const uRKmpc = [
  0.15,0.05,-0.05,0.08,0.12,-0.05,0.00,0.10,0.18,0.05,-0.08,0.02,0.10,-0.05,0.05,0.12,
  0.50,0.05,-0.50,-0.20,-0.05,-0.15,-0.25,-0.10,-0.10,-0.25,-0.20,-0.05,-0.05,-0.20,-0.28,-0.15,
  -0.15,-0.05,0.05,-0.10,-0.20,-0.30,-0.10,0.00,-0.35,-0.15,0.00,-0.10,-0.18,-0.30,-0.05,-0.10,
  -0.25,-0.10,0.02,-0.05,-0.15,-0.25,-0.30,-0.05,0.05,-0.10,-0.20,-0.30,-0.08,0.00,-0.25,-0.15,
  -0.05,-0.15,-0.20,-0.05,0.05,-0.10,-0.15,-0.25,-0.25,-0.10,0.00,0.20,0.20,-0.10,-0.30,-0.15,
  -0.10,-0.20,0.05,-0.10,-0.22,0.00,0.15,-0.05,-0.15,-0.30,-0.40,0.00,0.35,0.10,-0.05,-0.20,
  -0.25,-0.10,0.05,-0.10,-0.15,-0.25,-0.30,-0.10,0.00,-0.15,-0.20,-0.05,0.10,-0.05,-0.28,-0.15,
  0.05,-0.10,-0.15,-0.25,-0.25,-0.05,0.00,-0.15,-0.12,-0.30,-0.30,-0.05,0.05,-0.10,-0.10,-0.20,
  0.20,-0.05,-0.25,-0.10,0.00,-0.20,-0.15,0.05,0.25,-0.05,-0.30,-0.15,0.05,-0.10,-0.20,-0.30,
  -0.10,-0.30,-0.50,-0.20,0.02,-0.15,-0.30,-0.10,-0.05,-0.15,-0.15,0.05,0.15,-0.10,-0.25,-0.10,
  0.10,-0.05,-0.20,-0.10,-0.05,-0.20,-0.30,-0.15,0.05,-0.05,-0.15,-0.30,-0.35,-0.10,0.02,-0.15,
  0.30,0.05,-0.20,-0.05,0.10,-0.15,-0.40,-0.25,-0.15,-0.05,0.00,-0.25,-0.45,-0.30,-0.10,-0.15,
  -0.20,-0.05,0.05,-0.15,-0.30,-0.10,0.20,-0.10,-0.45,-0.30,-0.10,-0.05,0.00,0.25,0.50,0.52,
  0.52,0.50,0.50,0.50,0.50,0.50,-0.50,-0.50,-0.10,0.05,0.10,0.15,0.20,0.10,0.05,0.10,
  0.15,0.10,0.05,0.15,0.20,0.10,0.10,0.00,0.00,0.10,0.12,0.05,-0.02,0.05,0.08,0.00,
  -0.10,0.00,0.05,0.10,0.10,-0.05,-0.05,0.05,0.12,0.00,-0.15,-0.05,0.05,0.00,-0.05,0.02,
  0.05];

const X_TICKS = [0, 2, 4, 6, 8, 10, 12, 14, 16];

const C = { lqr: '#1f77b4', lin: '#ff7f0e', dd: '#2ca02c', kmpc: '#d62728', ref: '#9467bd' };

function sampled(vals, dt) { return vals.map((v, i) => ({ x: i * dt, y: v })); }
function paired(ts, vs) { return ts.map((t, i) => ({ x: t, y: vs[i] })); }

const PANELS = [
  { top: 166, min: -1.05, max: 2.06, ticks: [0, 2], dec: 1,
    label: '<i>χ̇</i> [m s<sup>−1</sup>]',
    lqr: sampled(dxLqr, DT), lin: sampled(dxLin, DT), dd: sampled(dxDd, DT), kmpc: sampled(dxKmpc, DT),
    ref: paired(dxRefT, dxRefV), refStep: true },
  { top: 303, min: -2.62, max: 2.05, ticks: [-2.5, 0], dec: 1,
    label: '<i>φ̇</i> [rad s<sup>−1</sup>]',
    lqr: sampled(dphiLqr, DT), lin: sampled(dphiLin, DT), dd: sampled(dphiDd, DT), kmpc: sampled(dphiKmpc, DT),
    ref: paired(dphiRefT, dphiRefV) },
  { top: 440, min: -4.4, max: 2.7, ticks: [-2.5, 0, 2.5], dec: 1,
    label: '<i>ψ̇</i> [rad s<sup>−1</sup>]',
    lqr: sampled(dpsiLqr, DT), lin: sampled(dpsiLin, DT), dd: sampled(dpsiDd, DT), kmpc: sampled(dpsiKmpc, DT),
    ref: paired(dpsiRefT, dpsiRefV), refStep: true },
  { top: 577, min: -0.45, max: 7.47, ticks: [0, 5], dec: 1,
    label: '<i>χ</i> [m]',
    lqr: sampled(chiLqr, DT_POS), lin: sampled(chiLin, DT_POS), dd: sampled(chiDd, DT_POS), kmpc: sampled(chiKmpc, DT_POS),
    ref: sampled(chiRef, DT_POS) },
  { top: 714, min: -0.257, max: 0.102, ticks: [-0.2, 0], dec: 1,
    label: '<i>φ</i> [rad]',
    lqr: sampled(phiLqr, DT), lin: sampled(phiLin, DT), dd: sampled(phiDd, DT), kmpc: sampled(phiKmpc, DT),
    ref: paired(phiRefT, phiRefV) },
  { top: 851, min: -0.98, max: 0.61, ticks: [-0.5, 0, 0.5], dec: 1,
    label: '<i>ψ</i> [rad]',
    lqr: paired(psiLqrT, psiLqrV), lin: paired(psiLinT, psiLinV), dd: paired(psiDdT, psiDdV), kmpc: paired(psiKmpcT, psiKmpcV),
    ref: paired(psiRefT, psiRefV) },
  { top: 988, min: -0.565, max: 0.56, ticks: [-0.5, 0, 0.5], dec: 1,
    label: '<i>u</i><sub>L</sub> [N m]',
    lqr: sampled(uLLqr, DT_U), lin: sampled(uLLin, DT_U), dd: sampled(uLDd, DT_U), kmpc: sampled(uLKmpc, DT_U) },
  { top: 1125, min: -0.675, max: 0.57, ticks: [-0.5, 0, 0.5], dec: 1,
    label: '<i>u</i><sub>R</sub> [N m]',
    lqr: sampled(uRLqr, DT_U), lin: sampled(uRLin, DT_U), dd: sampled(uRDd, DT_U), kmpc: sampled(uRKmpc, DT_U) }
];

const frame = {
  id: 'frame',
  afterDatasetsDraw(chart) {
    const { ctx, chartArea: a } = chart;
    ctx.save();
    ctx.strokeStyle = '#000';
    ctx.lineWidth = 1.6;
    ctx.strokeRect(a.left, a.top, a.right - a.left, a.bottom - a.top);
    ctx.restore();
  }
};

const PAD_TOP = 16;
const PLOT_H = 115;

PANELS.forEach((p, idx) => {
  const last = idx === PANELS.length - 1;
  const bottomH = last ? 50 : 10;
  const canvas = document.createElement('canvas');
  canvas.width = 832;
  canvas.height = PLOT_H + PAD_TOP + bottomH;
  canvas.style.top = (p.top - PAD_TOP) + 'px';
  document.body.appendChild(canvas);

  const line = (data, color, order) => ({ data, borderColor: color, borderWidth: 3, order,
    pointRadius: 0, tension: 0, fill: false, borderJoinStyle: 'round' });
  const datasets = [
    line(p.lqr, C.lqr, 4),
    line(p.lin, C.lin, 3),
    line(p.dd, C.dd, 2),
    line(p.kmpc, C.kmpc, 1)
  ];
  if (p.ref) {
    const r = line(p.ref, C.ref, 0);
    r.borderDash = [11, 5];
    r.stepped = p.refStep ? true : false;
    datasets.push(r);
  }

  new Chart(canvas, {
    type: 'line',
    data: { datasets },
    options: {
      responsive: false,
      animation: false,
      devicePixelRatio: 1,
      parsing: false,
      normalized: true,
      layout: { autoPadding: false, padding: { left: 0, right: 16, top: PAD_TOP, bottom: 0 } },
      plugins: { legend: { display: false }, tooltip: { enabled: false } },
      events: [],
      scales: {
        x: {
          type: 'linear', min: 0, max: 16, bounds: 'data',
          afterBuildTicks: s => { s.ticks = X_TICKS.map(v => ({ value: v })); },
          afterFit: s => { s.height = bottomH; s.paddingLeft = 0; s.paddingRight = 0; },
          border: { display: false },
          grid: { color: '#b0b0b0', lineWidth: 1.6, drawTicks: true, tickLength: 7, tickColor: '#000', tickWidth: 1.6 },
          ticks: { display: last, color: '#000', padding: 4, maxRotation: 0, autoSkip: false,
            font: { family: 'DejaVu Sans', size: 18.5 }, callback: v => String(v) }
        },
        y: {
          type: 'linear', min: p.min, max: p.max, bounds: 'data',
          afterBuildTicks: s => { s.ticks = p.ticks.map(v => ({ value: v })); },
          afterFit: s => { s.width = 101; s.paddingTop = 0; s.paddingBottom = 0; },
          border: { display: false },
          grid: { color: '#b0b0b0', lineWidth: 1.6, drawTicks: true, tickLength: 7, tickColor: '#000', tickWidth: 1.6 },
          ticks: { color: '#000', padding: 7.5, autoSkip: false,
            font: { family: 'DejaVu Sans', size: 18.5 }, callback: v => Number(v).toFixed(p.dec) }
        }
      }
    },
    plugins: [frame]
  });

  const lab = document.createElement('div');
  lab.className = 'ylab';
  lab.style.top = (p.top + PLOT_H / 2) + 'px';
  lab.innerHTML = p.label;
  document.body.appendChild(lab);
});

// legends
function swatch(color, dashed) {
  return `<svg width="42" height="8"><line x1="0" y1="4" x2="42" y2="4" stroke="${color}" stroke-width="3"${dashed ? ' stroke-dasharray="11 5"' : ''}/></svg>`;
}
function legend(box, rows, lineX) {
  const el = document.createElement('div');
  el.className = 'legend';
  el.style.cssText = `left:${box.left}px;top:${box.top}px;width:${box.w}px;height:${box.h}px;`;
  document.body.appendChild(el);
  rows.forEach(r => {
    const row = document.createElement('div');
    row.className = 'row';
    row.style.left = lineX + 'px';
    row.style.top = (r.cy - 12) + 'px';
    row.innerHTML = swatch(r.color, r.dashed) + `<span>${r.text}</span>`;
    document.body.appendChild(row);
  });
}
legend({ left: 540, top: 5, w: 267, h: 152 }, [
  { cy: 21, color: C.lqr, text: 'LQR trajectory' },
  { cy: 50, color: C.lin, text: 'MPC (lin) trajectory' },
  { cy: 79, color: C.dd, text: 'MPC (dd) trajectory' },
  { cy: 109, color: C.kmpc, text: 'KMPC trajectory' },
  { cy: 138, color: C.ref, text: 'reference', dashed: true }
], 547);
legend({ left: 505, top: 1272, w: 302, h: 130 }, [
  { cy: 1288, color: C.lqr, text: 'u (LQR trajectory)' },
  { cy: 1317, color: C.lin, text: 'u (MPC (lin) trajectory)' },
  { cy: 1347, color: C.dd, text: 'u (MPC (dd) trajectory)' },
  { cy: 1376, color: C.kmpc, text: 'u (KMPC trajectory)' }
], 512);
</script>
</body>
</html>
